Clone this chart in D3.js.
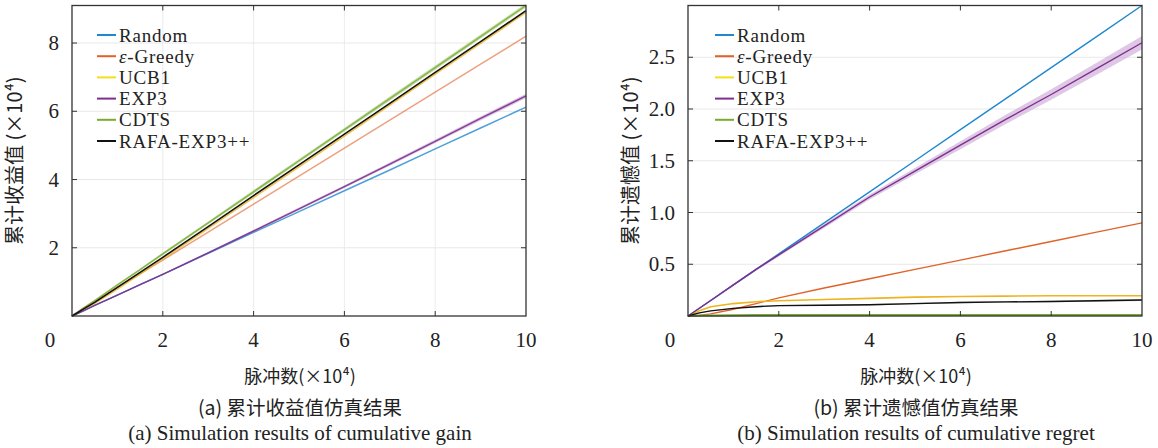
<!DOCTYPE html>
<html>
<head>
<meta charset="utf-8">
<script src="https://cdn.jsdelivr.net/npm/d3@7"></script>
<style>
  body { margin: 0; background: #fff; }
  text { fill: #222; }
  .serif { font-family: "Liberation Serif", "DejaVu Serif", serif; }
  .cjk { font-family: "Noto Sans CJK SC", sans-serif; }
</style>
</head>
<body>
<div id="chart"></div>
<script>
// Series names and colours (MATLAB default order).
var seriesNames = ["Random", "\u03B5-Greedy", "UCB1", "EXP3", "CDTS", "RAFA-EXP3++"];
var lineColors = ["#2188d0", "#e0622a", "#eeb420", "#7e2f8e", "#77ac30", "#111111"];
var legendColors = ["#2188d0", "#e0622a", "#f3e01c", "#7e2f8e", "#77ac30", "#111111"];

// Pulse count (x10^4) sample points.
var pulses = [0, 0.25, 0.5, 1, 1.5, 2, 3, 4, 5, 6, 7, 8, 9, 10];

// (a) cumulative gain (x10^4)
var gainRandom = [0, 0.15, 0.31, 0.61, 0.92, 1.22, 1.84, 2.45, 3.06, 3.67, 4.28, 4.90, 5.51, 6.12];
var gainGreedy = [0, 0.22, 0.43, 0.84, 1.24, 1.64, 2.46, 3.28, 4.10, 4.92, 5.74, 6.56, 7.38, 8.20];
var gainUCB1   = [0, 0.18, 0.37, 0.79, 1.23, 1.67, 2.57, 3.47, 4.37, 5.27, 6.18, 7.09, 7.99, 8.90];
var gainEXP3   = [0, 0.15, 0.31, 0.61, 0.92, 1.22, 1.85, 2.49, 3.14, 3.79, 4.45, 5.12, 5.79, 6.45];
var gainCDTS   = [0, 0.23, 0.45, 0.91, 1.36, 1.82, 2.73, 3.64, 4.55, 5.46, 6.37, 7.28, 8.19, 9.10];
var gainRAFA   = [0, 0.20, 0.40, 0.84, 1.28, 1.72, 2.62, 3.53, 4.43, 5.33, 6.23, 7.14, 8.04, 8.95];
var gainEXP3Spread = [0, 0.01, 0.01, 0.02, 0.02, 0.02, 0.03, 0.03, 0.04, 0.04, 0.05, 0.05, 0.06, 0.06];
var gainCDTSSpread = [0, 0.02, 0.02, 0.03, 0.03, 0.04, 0.04, 0.05, 0.05, 0.05, 0.06, 0.06, 0.06, 0.06];

// (b) cumulative regret (x10^4)
var regretRandom = [0, 0.075, 0.15, 0.30, 0.45, 0.60, 0.90, 1.20, 1.50, 1.80, 2.10, 2.40, 2.70, 3.00];
var regretGreedy = [0, 0.005, 0.02, 0.065, 0.12, 0.175, 0.27, 0.36, 0.45, 0.54, 0.63, 0.72, 0.81, 0.90];
var regretUCB1   = [0, 0.05, 0.09, 0.12, 0.137, 0.148, 0.16, 0.17, 0.182, 0.188, 0.192, 0.195, 0.196, 0.196];
var regretEXP3   = [0, 0.075, 0.15, 0.30, 0.45, 0.59, 0.87, 1.15, 1.40, 1.65, 1.90, 2.14, 2.39, 2.64];
var regretCDTS   = [0, 0.004, 0.006, 0.008, 0.009, 0.01, 0.01, 0.01, 0.01, 0.01, 0.01, 0.01, 0.01, 0.01];
var regretRAFA   = [0, 0.03, 0.05, 0.074, 0.09, 0.10, 0.104, 0.109, 0.12, 0.13, 0.136, 0.14, 0.147, 0.154];
var regretEXP3Spread = [0, 0.005, 0.008, 0.01, 0.012, 0.015, 0.02, 0.025, 0.03, 0.038, 0.045, 0.05, 0.058, 0.065];
var regretRAFASpread = [0, 0.003, 0.004, 0.005, 0.005, 0.006, 0.006, 0.007, 0.007, 0.008, 0.008, 0.008, 0.009, 0.009];

// Tick values.
var xTicks = [2, 4, 6, 8, 10];
var gainTicks = [2, 4, 6, 8];
var regretTicks = [0.5, 1.0, 1.5, 2.0, 2.5];

var width = 1158, height = 448;

var svg = d3.select("#chart").append("svg")
  .attr("width", width)
  .attr("height", height);

// Draws one panel of the figure.
function drawPanel(cfg) {
  var x = d3.scaleLinear().domain([0, 10]).range([cfg.left, cfg.right]),
      y = d3.scaleLinear().domain([0, cfg.yMax]).range([cfg.bottom, cfg.top]);

  var g = svg.append("g");

  // Grid lines.
  if (cfg.xGrid) {
    g.selectAll(".xgrid").data(xTicks.slice(0, -1)).enter().append("line")
      .attr("x1", function(d) { return x(d); })
      .attr("x2", function(d) { return x(d); })
      .attr("y1", cfg.top).attr("y2", cfg.bottom)
      .attr("stroke", "#ececec").attr("stroke-width", 1);
  }
  g.selectAll(".ygrid").data(cfg.yTicks).enter().append("line")
    .attr("x1", cfg.left).attr("x2", cfg.right)
    .attr("y1", function(d) { return y(d); })
    .attr("y2", function(d) { return y(d); })
    .attr("stroke", "#e8e8e8").attr("stroke-width", 1);

  // Shaded spread bands.
  var area = d3.area()
    .x(function(d, i) { return x(pulses[i]); })
    .y0(function(d) { return y(d[0] - d[1]); })
    .y1(function(d) { return y(d[0] + d[1]); });

  cfg.bands.forEach(function(b) {
    g.append("path")
      .datum(b.values.map(function(v, i) { return [v, b.spread[i]]; }))
      .attr("d", area)
      .attr("fill", b.color)
      .attr("opacity", b.opacity);
  });

  // Series lines.
  var line = d3.line()
    .x(function(d, i) { return x(pulses[i]); })
    .y(function(d) { return y(d); });

  cfg.series.forEach(function(s, i) {
    g.append("path")
      .datum(s)
      .attr("d", line)
      .attr("fill", "none")
      .attr("stroke", lineColors[i])
      .attr("stroke-opacity", cfg.opacity[i])
      .attr("stroke-width", cfg.widths[i]);
  });

  // Frame and inward ticks.
  g.append("rect")
    .attr("x", cfg.left).attr("y", cfg.top)
    .attr("width", cfg.right - cfg.left)
    .attr("height", cfg.bottom - cfg.top)
    .attr("fill", "none").attr("stroke", "#333").attr("stroke-width", 1.3);

  var tickLen = 5;
  xTicks.slice(0, -1).forEach(function(t) {
    g.append("line").attr("x1", x(t)).attr("x2", x(t))
      .attr("y1", cfg.bottom).attr("y2", cfg.bottom - tickLen)
      .attr("stroke", "#333");
    g.append("line").attr("x1", x(t)).attr("x2", x(t))
      .attr("y1", cfg.top).attr("y2", cfg.top + tickLen)
      .attr("stroke", "#333");
  });
  cfg.yTicks.forEach(function(t) {
    g.append("line").attr("x1", cfg.left).attr("x2", cfg.left + tickLen)
      .attr("y1", y(t)).attr("y2", y(t)).attr("stroke", "#333");
    g.append("line").attr("x1", cfg.right).attr("x2", cfg.right - tickLen)
      .attr("y1", y(t)).attr("y2", y(t)).attr("stroke", "#333");
  });

  // Tick labels.
  g.selectAll(".xlab").data(xTicks).enter().append("text")
    .attr("class", "serif")
    .attr("x", function(d) { return x(d); })
    .attr("y", cfg.bottom + 31)
    .attr("text-anchor", "middle")
    .style("font-size", "21px")
    .text(function(d) { return d; });
  g.append("text")
    .attr("class", "serif")
    .attr("x", x(0) - cfg.zeroShift)
    .attr("y", cfg.bottom + 31)
    .attr("text-anchor", "middle")
    .style("font-size", "21px")
    .text("0");

  g.selectAll(".ylab").data(cfg.yTicks).enter().append("text")
    .attr("class", "serif")
    .attr("x", cfg.left - 13)
    .attr("y", function(d) { return y(d) + 7; })
    .attr("text-anchor", "end")
    .style("font-size", "21px")
    .text(function(d) { return cfg.yFormat(d); });

  // Axis titles.
  g.append("text")
    .attr("class", "cjk")
    .attr("transform", "translate(" + (cfg.left - 50) + "," + ((cfg.top + cfg.bottom) / 2) + ") rotate(-90)")
    .attr("text-anchor", "middle")
    .style("font-size", "20px")
    .text(cfg.yTitle);

  g.append("text")
    .attr("class", "cjk")
    .attr("x", cfg.captionX)
    .attr("y", 383)
    .attr("text-anchor", "middle")
    .style("font-size", "18px")
    .text("脉冲数(×10⁴)");

  // Captions.
  g.append("text")
    .attr("class", "cjk")
    .attr("x", cfg.captionX)
    .attr("y", 415)
    .attr("text-anchor", "middle")
    .style("font-size", "19.5px")
    .text(cfg.captionCn);

  g.append("text")
    .attr("class", "serif")
    .attr("x", cfg.captionX)
    .attr("y", 440)
    .attr("text-anchor", "middle")
    .style("font-size", "21px")
    .text(cfg.captionEn);

  // Legend.
  var legend = g.append("g")
    .attr("transform", "translate(" + cfg.legendX + ",35)");
  seriesNames.forEach(function(name, i) {
    var row = legend.append("g").attr("transform", "translate(0," + (i * 21.2) + ")");
    row.append("line")
      .attr("x1", 0).attr("x2", 19)
      .attr("y1", 0).attr("y2", 0)
      .attr("stroke", legendColors[i])
      .attr("stroke-width", 2);
    var label = row.append("text")
      .attr("class", "serif")
      .attr("x", 22)
      .attr("y", 6.5)
      .style("font-size", "19px")
      .style("letter-spacing", "0.8px");
    if (i === 1) {
      label.append("tspan").style("font-style", "italic").text("\u03B5");
      label.append("tspan").text("-Greedy");
    } else {
      label.text(name);
    }
  });
}

drawPanel({
  left: 72, right: 526, top: 5.5, bottom: 316,
  yMax: 9.1,
  yTicks: gainTicks,
  yFormat: function(d) { return d; },
  xGrid: true,
  zeroShift: 22,
  series: [gainRandom, gainGreedy, gainUCB1, gainEXP3, gainCDTS, gainRAFA],
  opacity: [0.8, 0.6, 0.8, 0.9, 0.8, 1],
  widths: [1.5, 1.5, 1.5, 1.5, 1.5, 1.6],
  bands: [
    { values: gainEXP3, spread: gainEXP3Spread, color: "#b07fc0", opacity: 0.45 },
    { values: gainCDTS, spread: gainCDTSSpread, color: "#9cc46a", opacity: 0.55 }
  ],
  yTitle: "累计收益值 (×10⁴)",
  captionX: 300,
  captionCn: "(a) 累计收益值仿真结果",
  captionEn: "(a) Simulation results of cumulative gain",
  legendX: 97
});

drawPanel({
  left: 688, right: 1142, top: 5.5, bottom: 316,
  yMax: 3.0,
  yTicks: regretTicks,
  yFormat: d3.format(".1f"),
  xGrid: false,
  zeroShift: 18,
  series: [regretRandom, regretGreedy, regretUCB1, regretEXP3, regretCDTS, regretRAFA],
  opacity: [1, 1, 1, 1, 1, 1],
  widths: [1.4, 1.4, 1.6, 1.4, 2, 1.4],
  bands: [
    { values: regretEXP3, spread: regretEXP3Spread, color: "#c9a3d3", opacity: 0.6 },
    { values: regretRAFA, spread: regretRAFASpread, color: "#999", opacity: 0.5 }
  ],
  yTitle: "累计遗憾值 (×10⁴)",
  captionX: 916,
  captionCn: "(b) 累计遗憾值仿真结果",
  captionEn: "(b) Simulation results of cumulative regret",
  legendX: 715
});
</script>
</body>
</html>
